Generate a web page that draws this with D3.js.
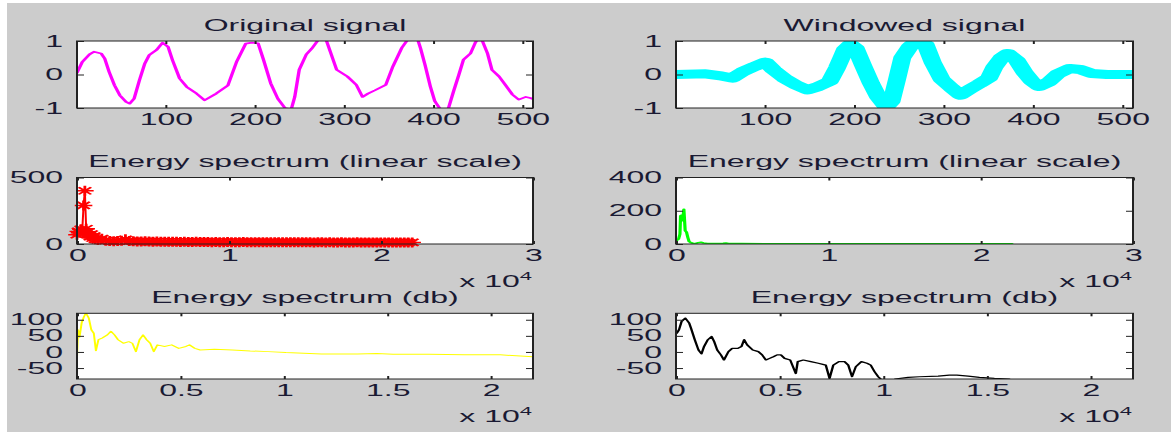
<!DOCTYPE html>
<html>
<head>
<meta charset="utf-8">
<script src="https://cdnjs.cloudflare.com/ajax/libs/d3/7.8.5/d3.min.js"></script>
<style>
    body { margin: 0; background: #fff; }
    svg { display: block; }
    text { font-family: 'Liberation Sans', Arial, Helvetica, sans-serif; fill: #1a1a33; }
</style>
</head>
<body>
<svg id="fig" width="1171" height="432"></svg>
<script>
// ---- values ----
// [sample index, amplitude]
const originalSignal = [
    [1, 0.05], [7, 0.38], [15, 0.6], [20, 0.68], [28, 0.63], [32, 0.48], [37, 0.08], [43, -0.32],
    [49, -0.62], [56, -0.82], [60, -0.87], [65, -0.72], [71, -0.17], [77, 0.33], [82, 0.58], [90, 0.73],
    [97, 0.95], [103, 0.83], [108, 0.43], [116, -0.12], [124, -0.37], [135, -0.57], [144, -0.77], [157, -0.57],
    [170, -0.33], [180, 0.39], [190, 0.92], [197, 0.95], [204, 0.93], [210, 0.44], [218, -0.26], [226, -0.72],
    [234, -1.0], [241, -1.05], [245, -0.67], [250, 0.14], [258, 0.6], [264, 0.77], [271, 1.02], [280, 1.05],
    [292, 0.14], [304, -0.06], [314, -0.31], [321, -0.67], [327, -0.57], [335, -0.47], [347, -0.31], [355, 0.24],
    [365, 0.8], [371, 1.02], [383, 1.03], [386, 0.78], [391, 0.29], [397, -0.36], [402, -0.8], [408, -1.03],
    [417, -1.03], [423, -0.5], [429, 0.0], [434, 0.44], [442, 0.63], [447, 0.93], [449, 1.02], [455, 1.02],
    [461, 0.63], [466, 0.14], [474, -0.06], [481, -0.31], [489, -0.6], [496, -0.75], [504, -0.67], [509, -0.7],
    [512, -0.73]
];
const windowedSignal = [
    [1, 0.0], [34, 0.02], [51, -0.04], [64, -0.11], [76, 0.09], [89, 0.24], [101, 0.37], [110, 0.14],
    [122, -0.11], [135, -0.31], [148, -0.46], [160, -0.36], [173, -0.2], [181, 0.2], [186, 0.5], [190, 0.75],
    [196, 0.9], [202, 0.78], [210, 0.28], [219, -0.26], [227, -0.67], [236, -0.97], [242, -0.8], [248, -0.16],
    [254, 0.5], [263, 0.85], [271, 1.02], [280, 0.9], [288, 0.36], [298, -0.14], [309, -0.4], [319, -0.62],
    [330, -0.43], [340, -0.28], [351, -0.1], [357, 0.22], [365, 0.5], [372, 0.63], [382, 0.42], [391, 0.05],
    [399, -0.2], [407, -0.36], [418, -0.22], [428, 0.02], [441, 0.18], [453, 0.15], [466, 0.03], [483, 0.0],
    [512, 0.0]
];
// [frequency Hz, energy]
const energyOriginal = [
    [0, 70], [86, 95], [172, 85], [258, 110], [345, 100], [431, 290], [517, 400], [603, 115],
    [689, 90], [775, 70], [861, 55], [947, 75], [1034, 45], [1120, 60], [1206, 35], [1378, 30],
    [1636, 40], [1895, 25], [2153, 22], [2412, 20], [2670, 22], [2929, 25], [3187, 35], [3445, 22],
    [3704, 20], [3962, 18], [4221, 19], [4479, 20], [4737, 18], [4996, 17], [5254, 18], [5513, 17],
    [5771, 16], [6029, 17], [6288, 16], [6546, 16], [6805, 15], [7063, 16], [7321, 15], [7580, 15],
    [7838, 16], [8097, 15], [8355, 15], [8613, 15], [8872, 14], [9130, 15], [9389, 14], [9647, 14],
    [9905, 15], [10164, 14], [10422, 14], [10681, 14], [10939, 15], [11197, 14], [11456, 14], [11714, 14],
    [11973, 13], [12231, 14], [12489, 13], [12748, 14], [13006, 13], [13265, 13], [13523, 14], [13781, 13],
    [14040, 13], [14298, 13], [14557, 14], [14815, 13], [15073, 13], [15332, 13], [15590, 12], [15849, 13],
    [16107, 13], [16365, 12], [16624, 13], [16882, 12], [17141, 12], [17399, 13], [17657, 12], [17916, 12],
    [18174, 12], [18433, 13], [18691, 12], [18949, 12], [19208, 12], [19466, 12], [19725, 11], [19983, 12],
    [20241, 12], [20500, 11], [20758, 12], [21017, 12], [21275, 11], [21533, 12], [21792, 11], [22050, 12]
];
const energyWindowed = [
    [0, 18], [86, 25], [172, 30], [258, 60], [300, 170], [345, 172], [431, 140], [517, 209],
    [603, 80], [689, 72], [775, 40], [861, 15], [947, 10], [1034, 6], [1120, 4], [1292, 3],
    [1464, 8], [1636, 10], [1809, 6], [2067, 3], [2584, 2], [3100, 4], [3273, 6], [3445, 3],
    [4307, 2], [6891, 1], [10336, 1], [14000, 1], [18000, 1], [22050, 1]
];
const dbOriginal = [
    [0, -15], [52, 69], [121, 46], [224, 90], [328, 108], [432, 121], [570, 105], [691, 69],
    [812, 58], [915, 4], [1036, 38], [1209, 43], [1468, 53], [1640, 64], [1813, 53], [1986, 38],
    [2245, 27], [2504, 32], [2677, 27], [2849, 1], [3022, 38], [3195, 53], [3367, 38], [3540, 27],
    [3713, 1], [3885, 22], [4231, 17], [4576, 22], [4921, 11], [5267, 17], [5440, 22], [5698, 11],
    [5957, 6], [6648, 8], [7512, 6], [8375, 3], [9238, 1], [10102, -2], [10965, -4], [11829, -6],
    [13556, -6], [14500, -5], [15283, -7], [17009, -7], [18736, -9], [20463, -9], [22050, -15]
];
const dbWindowed = [
    [36, 58], [145, 69], [271, 95], [452, 105], [633, 90], [723, 74], [904, 38], [1084, 6],
    [1229, -6], [1355, 17], [1536, 38], [1717, 48], [1843, 32], [1988, 6], [2168, -9], [2313, -25],
    [2530, 1], [2711, 11], [2982, 11], [3162, 17], [3289, 38], [3433, 22], [3704, 6], [3975, 1],
    [4156, -9], [4337, -25], [4518, -20], [4698, -15], [4879, -9], [5060, -9], [5240, -20], [5511, -25],
    [5782, -67], [5873, -30], [6144, -25], [6505, -30], [6867, -35], [7228, -41], [7409, -82], [7589, -41],
    [7860, -30], [8132, -30], [8312, -41], [8493, -77], [8674, -46], [8945, -30], [9216, -35], [9396, -41],
    [9577, -61], [9758, -77], [9939, -88], [10210, -120], [10571, -84], [11203, -79], [11746, -77], [12649, -75],
    [13191, -72], [13553, -72], [14095, -75], [14637, -79], [15360, -82], [16082, -84]
];

// ticks
const sampleTicks = [100, 200, 300, 400, 500];
const unitTicks = [-1, 0, 1];
const linTicks = [0, 10000, 20000, 30000];
const linLabels = ['0', '1', '2', '3'];
const dbXTicks = [0, 5000, 10000, 15000, 20000];
const dbXLabels = ['0', '0.5', '1', '1.5', '2'];
const dbYTicks = [-50, 0, 50, 100];
const titles = [
    'Original signal', 'Windowed signal',
    'Energy spectrum (linear scale)', 'Energy spectrum (linear scale)',
    'Energy spectrum (db)', 'Energy spectrum (db)'
];

// the whole figure is stretched horizontally
const sx = 2;
const cols = [[77, 533], [676, 1133]];
const rows = [[41, 108], [177.5, 244], [313.3, 379]];

const svg = d3.select('#fig');
svg.append('rect')
    .attr('x', 7).attr('y', 3)
    .attr('width', 1164).attr('height', 429)
    .attr('fill', '#cccccc');
const root = svg.append('g').attr('transform', `scale(${sx},1)`);

let clipId = 0;
function panel(col, row, cfg) {
    const [x0, x1] = cols[col].map((v) => v / sx);
    const [y0, y1] = rows[row];
    const x = d3.scaleLinear().domain(cfg.xDomain).range([x0, x1]);
    const y = d3.scaleLinear().domain(cfg.yDomain).range([y1, y0]);
    const g = root.append('g');

    g.append('rect')
        .attr('x', x0).attr('y', y0)
        .attr('width', x1 - x0).attr('height', y1 - y0)
        .attr('fill', '#fff');

    const id = 'clip' + clipId++;
    g.append('clipPath').attr('id', id)
        .append('rect')
        .attr('x', x0).attr('y', y0)
        .attr('width', x1 - x0).attr('height', y1 - y0);
    const plot = g.append('g');
    const clipped = plot.append('g').attr('clip-path', `url(#${id})`);

    cfg.draw(clipped, plot, x, y);

    // axes, ticks pointing inwards on all four sides
    const fmt = (labels, ticks) => (d) => labels ? labels[ticks.indexOf(d)] : String(d);
    const axes = [
        [d3.axisBottom(x).tickValues(cfg.xTicks).tickFormat(fmt(cfg.xLabels, cfg.xTicks)), `translate(0,${y1})`, -3, 5.6],
        [d3.axisTop(x).tickValues(cfg.xTicks).tickFormat(''), `translate(0,${y0})`, -3, 0],
        [d3.axisLeft(y).tickValues(cfg.yTicks).tickFormat(fmt(null, cfg.yTicks)), `translate(${x0},0)`, -3.5, 7],
        [d3.axisRight(y).tickValues(cfg.yTicks).tickFormat(''), `translate(${x1},0)`, -3.5, 0]
    ];
    axes.forEach(([axis, tr, size, pad]) => {
        const a = g.append('g')
            .attr('transform', tr)
            .call(axis.tickSizeInner(size).tickSizeOuter(0).tickPadding(pad));
        a.attr('font-size', 16).attr('color', '#222');
        a.select('.domain').remove();
    });

    g.append('rect')
        .attr('x', x0).attr('y', y0)
        .attr('width', x1 - x0).attr('height', y1 - y0)
        .attr('fill', 'none')
        .attr('stroke', '#222')
        .attr('stroke-width', 1);

    g.append('text')
        .attr('x', (x0 + x1) / 2)
        .attr('y', y0 - 10)
        .attr('text-anchor', 'middle')
        .attr('font-size', 16)
        .text(titles[row * 2 + col]);

    if (cfg.exponent) {
        const t = g.append('text')
            .attr('x', x1 - 0.5)
            .attr('y', y1 + 43)
            .attr('text-anchor', 'end')
            .attr('font-size', 16);
        t.append('tspan').text('x 10');
        t.append('tspan').attr('dy', -7).attr('font-size', 11).text('4');
    }
}

const line = (x, y) => d3.line().x((d) => x(d[0])).y((d) => y(d[1]));
const drawLine = (data, color, width) => (clipped, plot, x, y) => {
    clipped.append('path')
        .datum(data)
        .attr('d', line(x, y))
        .attr('fill', 'none')
        .attr('stroke', color)
        .attr('stroke-width', width)
        .attr('stroke-linejoin', 'round')
        .attr('stroke-linecap', 'round');
};

const sigCfg = { xDomain: [1, 512], yDomain: [-1, 1], xTicks: sampleTicks, yTicks: unitTicks };
panel(0, 0, { ...sigCfg, draw: drawLine(originalSignal, '#ff00ff', 1.7) });
panel(1, 0, { ...sigCfg, draw: drawLine(windowedSignal, '#00ffff', 9) });

const linCfg = { xDomain: [0, 30000], xTicks: linTicks, xLabels: linLabels, exponent: true };
panel(0, 1, {
    ...linCfg,
    yDomain: [0, 500],
    yTicks: [0, 500],
    draw: (clipped, plot, x, y) => {
        clipped.append('path')
            .datum(energyOriginal)
            .attr('d', line(x, y))
            .attr('fill', 'none')
            .attr('stroke', '#ff0000')
            .attr('stroke-width', 1);
        // '*' markers are not clipped
        plot.selectAll('.star')
            .data(energyOriginal)
            .enter()
            .append('path')
            .attr('class', 'star')
            .attr('transform', (d) => `translate(${x(d[0])},${y(d[1])})`)
            .attr('d', 'M-4.4,0H4.4M0,-5V5M-3.1,-3.6L3.1,3.6M-3.1,3.6L3.1,-3.6')
            .attr('stroke', '#ff0000')
            .attr('stroke-width', 1.4)
            .attr('fill', 'none');
    }
});
panel(1, 1, { ...linCfg, yDomain: [0, 400], yTicks: [0, 200, 400], draw: drawLine(energyWindowed, '#00ff00', 1.6) });

const dbCfg = { xDomain: [0, 22050], yDomain: [-84, 120], xTicks: dbXTicks, xLabels: dbXLabels, yTicks: dbYTicks, exponent: true };
panel(0, 2, { ...dbCfg, draw: drawLine(dbOriginal, '#ffff00', 1) });
panel(1, 2, { ...dbCfg, draw: drawLine(dbWindowed, '#000000', 1.2) });
</script>
</body>
</html>
